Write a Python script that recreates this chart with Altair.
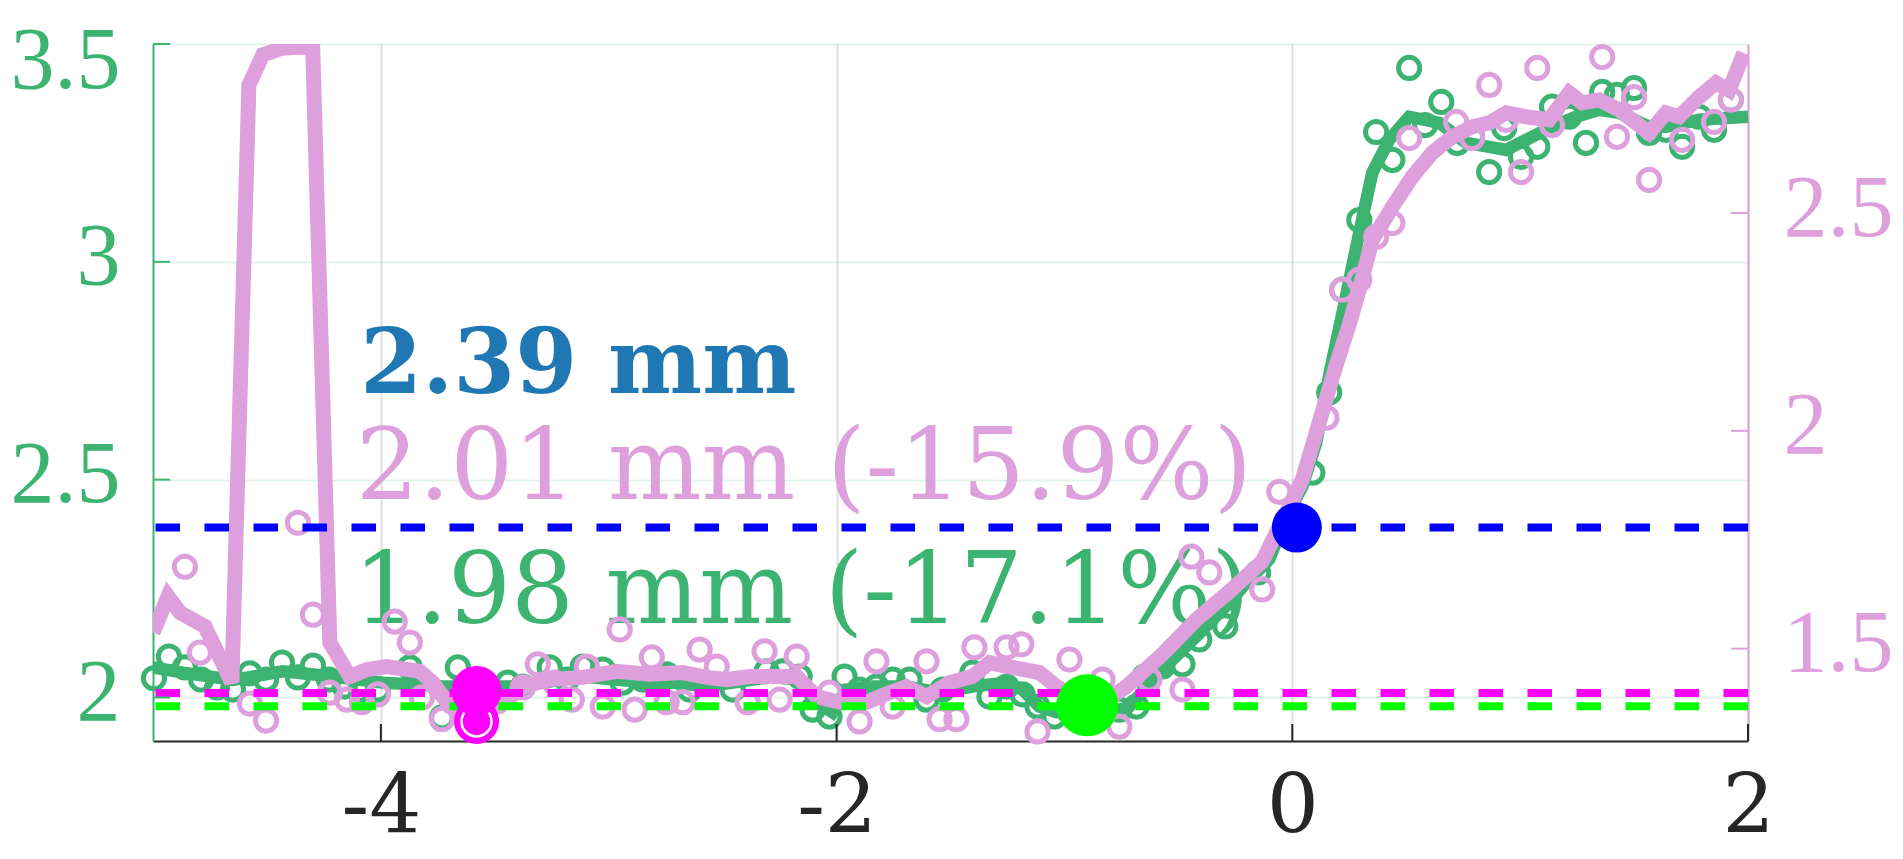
import altair as alt
import pandas as pd

GREEN = "#3cb371"
PINK = "#dda0dd"
INK = "#262626"

# ---------------- data ----------------
x_tick_values = [-4, -2, 0, 2]
left_tick_values = [2, 2.5, 3, 3.5]
right_tick_values = [1.5, 2, 2.5]

# green series (left axis)
green_pts_x = [-4.996, -4.930, -4.860, -4.789, -4.719, -4.649, -4.575, -4.504, -4.434, -4.364,
               -4.298, -4.228, -4.158, -4.088, -4.013, -3.873, -3.732, -3.662, -3.522, -3.443,
               -3.377, -3.259, -3.184, -3.114, -3.026, -2.939, -2.851, -2.746, -2.645, -2.456,
               -2.307, -2.237, -2.162, -2.105, -2.031, -1.965, -1.899, -1.825, -1.754, -1.680,
               -1.605, -1.535, -1.404, -1.329, -1.254, -1.184, -1.118, -1.044, -0.978, -0.825,
               -0.759, -0.684, -0.649, -0.570, -0.482, -0.408, -0.294, -0.150, 0.088, 0.162,
               0.219, 0.294, 0.368, 0.439, 0.513, 0.583, 0.654, 0.724, 0.789, 0.864,
               0.930, 1.004, 1.075, 1.140, 1.215, 1.289, 1.360, 1.425, 1.500, 1.566,
               1.640, 1.711, 1.785, 1.851, 1.925]
green_pts_y = [2.044, 2.094, 2.069, 2.041, 2.023, 2.018, 2.055, 2.041, 2.080, 2.046,
               2.073, 2.041, 2.025, 2.018, 2.018, 2.069, 1.954, 2.069, 2.018, 2.034,
               2.025, 2.069, 2.041, 2.071, 2.064, 2.034, 2.041, 2.053, 2.018, 2.018,
               2.060, 2.060, 2.048, 1.972, 1.956, 2.048, 2.018, 2.025, 2.041, 2.041,
               1.995, 2.018, 2.057, 2.002, 2.025, 2.007, 1.979, 1.956, 1.968, 1.989,
               1.972, 1.979, 2.048, 2.071, 2.076, 2.133, 2.163, 2.287, 2.516, 2.700,
               2.936, 3.096, 3.298, 3.234, 3.445, 3.314, 3.367, 3.273, 3.287, 3.206,
               3.307, 3.241, 3.264, 3.356, 3.333, 3.273, 3.390, 3.383, 3.399, 3.296,
               3.303, 3.264, 3.333, 3.303, 3.372]

green_line_x = [-5.000, -4.868, -4.649, -4.430, -4.211, -3.991, -3.728, -3.404, -3.114, -2.820,
                -2.719, -2.570, -2.281, -2.175, -2.088, -2.018, -1.956, -1.842, -1.693, -1.548,
                -1.404, -1.254, -1.184, -1.110, -1.035, -0.904, -0.759, -0.715, -0.570, -0.421,
                -0.276, -0.202, -0.101, -0.026, 0.044, 0.105, 0.162, 0.219, 0.294, 0.351,
                0.425, 0.513, 0.645, 0.763, 0.864, 0.939, 1.026, 1.140, 1.246, 1.346,
                1.434, 1.566, 1.640, 1.785, 2.000]
green_line_y = [2.069, 2.057, 2.040, 2.060, 2.048, 2.034, 2.025, 2.025, 2.048, 2.034,
                2.034, 2.025, 2.048, 2.041, 1.989, 1.966, 2.018, 2.025, 2.025, 2.011,
                2.025, 2.034, 2.018, 1.979, 1.966, 1.968, 1.972, 1.979, 2.064, 2.140,
                2.218, 2.264, 2.317, 2.415, 2.484, 2.585, 2.740, 2.880, 3.067, 3.204,
                3.280, 3.333, 3.319, 3.273, 3.264, 3.257, 3.280, 3.310, 3.333, 3.349,
                3.342, 3.310, 3.310, 3.326, 3.333]

# pink series (right axis)
pink_pts_x = [-4.860, -4.794, -4.575, -4.504, -4.364, -4.298, -4.224, -4.149, -4.083, -4.013,
              -3.939, -3.873, -3.820, -3.732, -3.377, -3.311, -3.237, -3.162, -3.096, -3.026,
              -2.952, -2.886, -2.811, -2.746, -2.675, -2.601, -2.526, -2.390, -2.316, -2.250,
              -2.175, -2.031, -1.899, -1.825, -1.754, -1.605, -1.548, -1.474, -1.395, -1.254,
              -1.189, -1.118, -0.978, -0.833, -0.759, -0.627, -0.482, -0.443, -0.364, -0.132,
              -0.057, 0.150, 0.219, 0.294, 0.368, 0.439, 0.513, 0.719, 0.789, 0.864,
              0.939, 1.004, 1.075, 1.140, 1.360, 1.425, 1.500, 1.566, 1.711, 1.851,
              1.925]
pink_pts_y = [1.688, 1.491, 1.374, 1.335, 1.789, 1.578, 1.399, 1.383, 1.377, 1.395,
              1.562, 1.514, 1.388, 1.338, 1.411, 1.464, 1.422, 1.383, 1.459, 1.367,
              1.544, 1.360, 1.480, 1.377, 1.377, 1.498, 1.459, 1.377, 1.494, 1.383,
              1.482, 1.399, 1.333, 1.471, 1.367, 1.471, 1.338, 1.338, 1.503, 1.503,
              1.510, 1.310, 1.475, 1.429, 1.321, 1.429, 1.406, 1.711, 1.675, 1.636,
              1.860, 2.030, 2.324, 2.347, 2.445, 2.477, 2.672, 2.709, 2.672, 2.794,
              2.714, 2.594, 2.833, 2.702, 2.858, 2.675, 2.766, 2.576, 2.668, 2.709,
              2.760]

pink_line_x = [-5.000, -4.934, -4.882, -4.772, -4.654, -4.579, -4.518, -4.430, -4.325, -4.303,
               -4.224, -4.136, -4.061, -3.974, -3.829, -3.772, -3.697, -3.610, -3.478, -3.377,
               -3.259, -3.114, -2.965, -2.820, -2.675, -2.570, -2.482, -2.382, -2.175, -2.088,
               -1.987, -1.868, -1.768, -1.693, -1.605, -1.504, -1.404, -1.329, -1.228, -1.110,
               -1.035, -0.934, -0.846, -0.728, -0.570, -0.421, -0.276, -0.132, -0.070, -0.013,
               0.044, 0.105, 0.193, 0.250, 0.294, 0.351, 0.439, 0.526, 0.614, 0.702,
               0.789, 0.864, 0.939, 1.026, 1.127, 1.215, 1.272, 1.346, 1.434, 1.491,
               1.566, 1.640, 1.697, 1.785, 1.860, 1.917, 1.982]
pink_line_y = [1.537, 1.620, 1.583, 1.551, 1.422, 2.794, 2.863, 2.879, 2.881, 2.950,
               1.514, 1.436, 1.452, 1.459, 1.448, 1.422, 1.367, 1.354, 1.367, 1.413,
               1.429, 1.434, 1.448, 1.441, 1.445, 1.434, 1.429, 1.436, 1.436, 1.390,
               1.377, 1.377, 1.399, 1.413, 1.390, 1.422, 1.436, 1.468, 1.457, 1.445,
               1.413, 1.383, 1.372, 1.413, 1.487, 1.567, 1.631, 1.700, 1.766, 1.826,
               1.888, 1.996, 2.152, 2.244, 2.324, 2.438, 2.514, 2.583, 2.638, 2.675,
               2.698, 2.707, 2.730, 2.721, 2.714, 2.776, 2.753, 2.760, 2.737, 2.714,
               2.684, 2.730, 2.721, 2.766, 2.799, 2.782, 2.867]

# reference levels (left axis)
ref_levels = [2.39, 2.01, 1.98]
ref_colors = ["#0000ff", "#ff00ff", "#00ff00"]

# highlighted points (left axis)
blue_pt = ([0.02], [2.39])
green_pt = ([-0.90], [1.982])
magenta_pt = ([-3.58], [2.015])
magenta_low_pt = ([-3.58], [1.945])

# annotations
label_texts = ["2.39 mm", "2.01 mm (-15.9%)", "1.98 mm (-17.1%)"]
label_x = [-4.09, -4.11, -4.12]
label_y = [2.70, 2.456, 2.172]
label_colors = ["#1f77b4", PINK, GREEN]

# ---------------- chart ----------------
W, H = 1595, 697

XS = alt.Scale(domain=[-5, 2], nice=False, zero=False)
YL = alt.Scale(domain=[1.9, 3.5], nice=False, zero=False)
YR = alt.Scale(domain=[1.288, 2.888], nice=False, zero=False)

x_axis = alt.Axis(values=x_tick_values, labelExpr="toString(datum.value)",
                  labelFont="DejaVu Serif", labelFontSize=82, labelColor=INK,
                  labelBaseline="alphabetic", labelPadding=91,
                  labelFlush=False, labelOverlap=False,
                  ticks=False, tickSize=0, domainColor=INK, domainWidth=2,
                  grid=True, gridColor=INK, gridOpacity=0.15, gridWidth=2, title=None)
left_axis = alt.Axis(orient="left", values=left_tick_values, labelExpr="toString(datum.value)",
                     labelFont="Liberation Serif", labelFontSize=88, labelColor=GREEN,
                     labelPadding=33,
                     labelOffset={"condition": {"test": "datum.value == 3.5", "value": 17}, "value": -4},
                     labelOverlap=False,
                     ticks=False, tickSize=0, domainColor=GREEN, domainWidth=2,
                     grid=True, gridColor=GREEN, gridOpacity=0.15, gridWidth=2, title=None)
right_axis = alt.Axis(orient="right", values=right_tick_values, labelExpr="toString(datum.value)",
                      labelFont="Liberation Serif", labelFontSize=88, labelColor=PINK,
                      labelPadding=35, labelOffset=-4, labelOverlap=False,
                      ticks=False, tickSize=0, domainColor=PINK, domainWidth=2,
                      grid=False, title=None)


def X():
    return alt.X("x:Q", scale=XS, axis=x_axis)


def YLn():
    return alt.Y("y:Q", scale=YL, axis=None)


def YRn():
    return alt.Y("y:Q", scale=YR, axis=None)


df_lab = pd.DataFrame({"x": label_x, "y": label_y, "t": label_texts, "c": label_colors})

text_bold = alt.Chart(df_lab.iloc[:1]).mark_text(
    align="left", baseline="alphabetic", font="DejaVu Serif", fontSize=89, fontWeight="bold"
).encode(x=X(), y=alt.Y("y:Q", scale=YL, axis=left_axis), text="t:N",
         color=alt.Color("c:N", scale=None))

text_norm = alt.Chart(df_lab.iloc[1:]).mark_text(
    align="left", baseline="alphabetic", font="DejaVu Serif", fontSize=99
).encode(x=X(), y=YLn(), text="t:N", color=alt.Color("c:N", scale=None))

g_pts = alt.Chart(pd.DataFrame({"x": green_pts_x, "y": green_pts_y})).mark_point(
    shape="circle", filled=False, size=450, strokeWidth=5, color=GREEN, opacity=1
).encode(x=X(), y=YLn())

g_line = alt.Chart(pd.DataFrame({"x": green_line_x, "y": green_line_y})).mark_line(
    color=GREEN, strokeWidth=12.5, clip=True
).encode(x=X(), y=YLn())

p_pts = alt.Chart(pd.DataFrame({"x": pink_pts_x, "y": pink_pts_y})).mark_point(
    shape="circle", filled=False, size=450, strokeWidth=5, color=PINK, opacity=1
).encode(x=X(), y=alt.Y("y:Q", scale=YR, axis=right_axis))

p_line = alt.Chart(pd.DataFrame({"x": pink_line_x, "y": pink_line_y})).mark_line(
    color=PINK, strokeWidth=15, clip=True
).encode(x=X(), y=YRn())

refs = alt.Chart(pd.DataFrame({"y": ref_levels, "c": ref_colors})).mark_rule(
    strokeDash=[24.5, 24.5], strokeWidth=8
).encode(y=YLn(), color=alt.Color("c:N", scale=None))


def dot(pt, color, size):
    return alt.Chart(pd.DataFrame({"x": pt[0], "y": pt[1]})).mark_point(
        shape="circle", filled=True, size=size, color=color, opacity=1, strokeWidth=0
    ).encode(x=X(), y=YLn())


low_dot = dot(magenta_low_pt, "#ff00ff", 2025)
ring = alt.Chart(pd.DataFrame({"x": magenta_low_pt[0], "y": magenta_low_pt[1]})).mark_point(
    shape="circle", filled=False, size=900, strokeWidth=2.5, color="white", opacity=1
).encode(x=X(), y=YLn())
mag_dot = dot(magenta_pt, "#ff00ff", 2500)
green_dot = dot(green_pt, "#00ff00", 3844)
blue_dot = dot(blue_pt, "#0000ff", 2500)

x_ticks = alt.Chart(pd.DataFrame({"x": x_tick_values})).mark_rule(
    color=INK, strokeWidth=2
).encode(x=X(), y=alt.value(H), y2=alt.value(H - 17))

l_ticks = alt.Chart(pd.DataFrame({"y": left_tick_values})).mark_rule(
    color=GREEN, strokeWidth=2
).encode(y=YLn(), x=alt.value(0), x2=alt.value(17))

r_ticks = alt.Chart(pd.DataFrame({"y": right_tick_values})).mark_rule(
    color=PINK, strokeWidth=2
).encode(y=YRn(), x=alt.value(W - 17), x2=alt.value(W))

chart = alt.layer(
    text_bold, text_norm, g_pts, g_line, p_pts, p_line, refs,
    low_dot, ring, mag_dot, green_dot, blue_dot, x_ticks, l_ticks, r_ticks
).resolve_scale(y="independent").properties(
    width=W, height=H,
    autosize=alt.AutoSizeParams(type="none"),
    padding={"left": 145, "top": 36, "right": 147, "bottom": 110},
    background="white",
).configure_view(strokeWidth=0)

chart.save("out.html", embed_options={"renderer": "svg", "actions": False})
